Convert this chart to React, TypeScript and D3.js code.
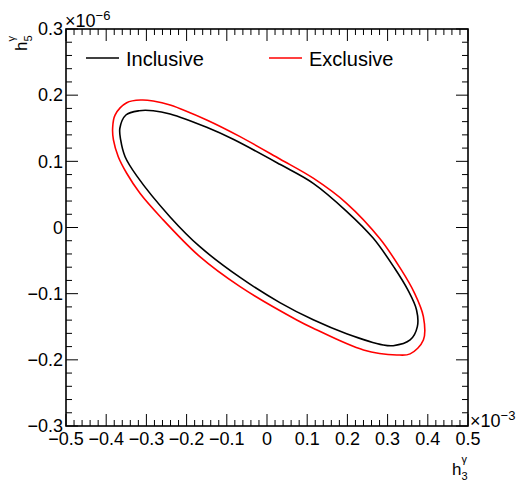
import React from 'react';
import * as d3 from 'd3';

// contour points, x in units of 1e-3, y in units of 1e-6
const inclusiveX = [-0.351, -0.318, -0.283, -0.241, -0.15, -0.084, 0.032, 0.115, 0.198, 0.264, 0.318, 0.35, 0.372, 0.374, 0.356, 0.314, 0.289, 0.198, 0.115, 0.032, -0.067, -0.167, -0.241, -0.324, -0.353, -0.364, -0.366];
const inclusiveY = [0.17, 0.1765, 0.1765, 0.1716, 0.1514, 0.1333, 0.0955, 0.0668, 0.0245, -0.016, -0.062, -0.094, -0.1246, -0.1498, -0.17, -0.1786, -0.1775, -0.1605, -0.1395, -0.1135, -0.0755, -0.029, 0.016, 0.078, 0.107, 0.1323, 0.15];

const exclusiveX = [-0.349, -0.312, -0.283, -0.241, -0.15, -0.067, 0.032, 0.115, 0.198, 0.281, 0.333, 0.366, 0.389, 0.389, 0.356, 0.323, 0.24, 0.115, 0.074, -0.067, -0.167, -0.262, -0.316, -0.349, -0.37, -0.382, -0.384, -0.378];
const exclusiveY = [0.1886, 0.1927, 0.1912, 0.1852, 0.1625, 0.1373, 0.1035, 0.0745, 0.0366, -0.017, -0.063, -0.098, -0.1347, -0.17, -0.191, -0.1926, -0.185, -0.1522, -0.1397, -0.0894, -0.0441, 0.014, 0.0517, 0.082, 0.107, 0.1323, 0.15, 0.17];

const xTicks = [-0.5, -0.4, -0.3, -0.2, -0.1, 0, 0.1, 0.2, 0.3, 0.4, 0.5];
const yTicks = [-0.3, -0.2, -0.1, 0, 0.1, 0.2, 0.3];

const seriesNames = ['Inclusive', 'Exclusive'];
const seriesColors = ['#000000', '#ff0000'];

const width = 516;
const height = 483;
const font = '"Liberation Sans", Arial, Helvetica, sans-serif';

const fmt = (v: number) => {
  const r = Math.round(v * 10) / 10;
  if (r === 0) return '0';
  return (r < 0 ? '\u2212' : '') + Math.abs(r).toString();
};

const App = () => {
  const margin = { top: 29, right: 48, bottom: 57, left: 66 };
  const x = d3.scaleLinear().domain([-0.5, 0.5]).range([margin.left, width - margin.right]);
  const y = d3.scaleLinear().domain([-0.3, 0.3]).range([height - margin.bottom, margin.top]);

  const [x0, x1] = x.range();
  const [y0, y1] = y.range(); // y0 bottom, y1 top

  const line = d3
    .line<[number, number]>()
    .x(d => x(d[0]))
    .y(d => y(d[1]))
    .curve(d3.curveCatmullRomClosed.alpha(0.5));

  const incPts = inclusiveX.map((v, i) => [v, inclusiveY[i]] as [number, number]);
  const excPts = exclusiveX.map((v, i) => [v, exclusiveY[i]] as [number, number]);

  const xMinor = d3.range(-0.5, 0.5001, 0.02);
  const yMinor = d3.range(-0.3, 0.3001, 0.02);
  const major = 12;
  const minor = 6;

  return (
    <svg width={width} height={height} style={{ position: 'absolute', left: 0, top: 0, background: '#fff' }}>
      <rect x={0} y={0} width={width} height={height} fill="#fff" />

      {/* contours */}
      <path d={line(incPts) || ''} fill="none" stroke={seriesColors[0]} strokeWidth={1.6} />
      <path d={line(excPts) || ''} fill="none" stroke={seriesColors[1]} strokeWidth={1.6} />

      {/* ticks */}
      <g stroke="#000" strokeWidth={1}>
        {xMinor.map((v, i) => {
          const len = i % 5 === 0 ? major : minor;
          return (
            <g key={'xt' + i}>
              <line x1={x(v)} x2={x(v)} y1={y0} y2={y0 - len} />
              <line x1={x(v)} x2={x(v)} y1={y1} y2={y1 + len} />
            </g>
          );
        })}
        {yMinor.map((v, i) => {
          const len = i % 5 === 0 ? major : minor;
          return (
            <g key={'yt' + i}>
              <line x1={x0} x2={x0 + len} y1={y(v)} y2={y(v)} />
              <line x1={x1} x2={x1 - len} y1={y(v)} y2={y(v)} />
            </g>
          );
        })}
      </g>

      {/* frame */}
      <rect x={x0} y={y1} width={x1 - x0} height={y0 - y1} fill="none" stroke="#000" strokeWidth={1.6} />

      {/* tick labels */}
      <g fontFamily={font} fontSize={18} fill="#000">
        {xTicks.map(v => (
          <text key={'xl' + v} x={x(v)} y={y0 + 19} textAnchor="middle">
            {fmt(v)}
          </text>
        ))}
        {yTicks.map(v => (
          <text key={'yl' + v} x={x0 - 3} y={y(v)} dy="0.35em" textAnchor="end">
            {fmt(v)}
          </text>
        ))}
        <text x={x0 - 1} y={27}>
          ×10<tspan fontSize={13} dy={-7}>−6</tspan>
        </text>
        <text x={x1 + 2} y={427}>
          ×10<tspan fontSize={13} dy={-7}>−3</tspan>
        </text>
      </g>

      {/* axis titles */}
      <g fontFamily={font} fill="#000">
        <g transform={`translate(452,475)`}>
          <text x={0} y={0} fontSize={17}>h</text>
          <text x={9.5} y={-12} fontSize={11}>γ</text>
          <text x={9.5} y={5} fontSize={11}>3</text>
        </g>
        <g transform={`translate(27,51) rotate(-90)`}>
          <text x={0} y={0} fontSize={17}>h</text>
          <text x={9.5} y={-12} fontSize={11}>γ</text>
          <text x={9.5} y={5} fontSize={11}>5</text>
        </g>
      </g>

      {/* legend */}
      <g fontFamily={font} fontSize={20}>
        {seriesNames.map((name, i) => {
          const lx = i === 0 ? 86 : 269;
          return (
            <g key={name}>
              <line x1={lx} x2={lx + 33} y1={58} y2={58} stroke={seriesColors[i]} strokeWidth={1.6} />
              <text x={lx + 40} y={66} fill="#000">
                {name}
              </text>
            </g>
          );
        })}
      </g>
    </svg>
  );
};

export default App;
